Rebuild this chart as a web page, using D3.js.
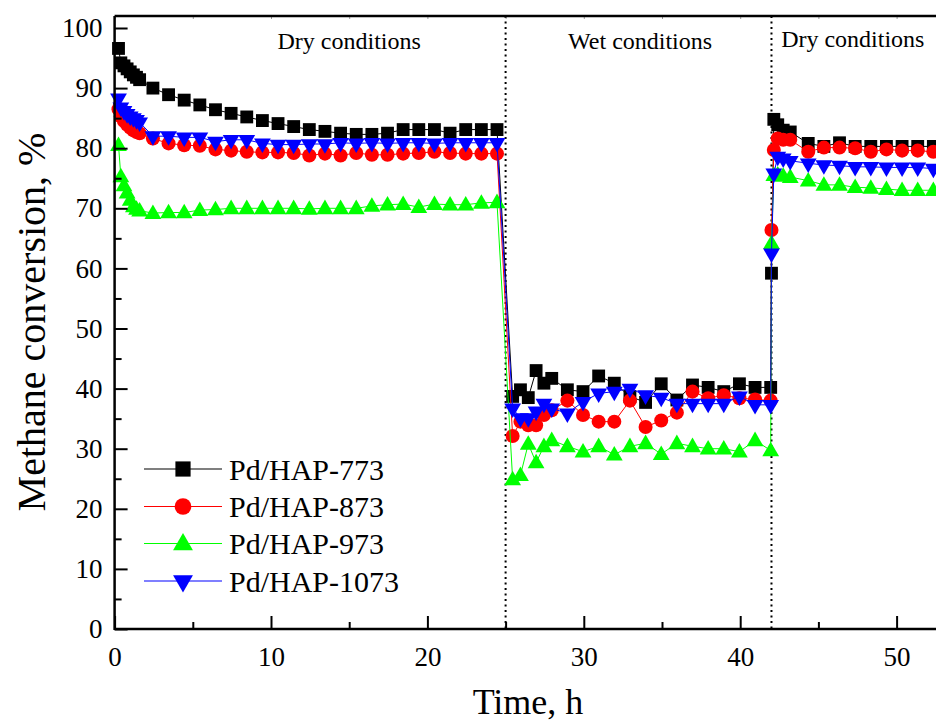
<!DOCTYPE html>
<html>
<head>
<meta charset="utf-8">
<script src="https://cdn.jsdelivr.net/npm/d3@7"></script>
<style>
  body { margin: 0; background: #fff; }
  svg { display: block; }
  text { font-family: "Liberation Serif", "Times New Roman", serif; fill: #000; }
</style>
</head>
<body>
<svg id="chart" width="936" height="724"></svg>
<script>
// Time on stream, h (shared by all four catalysts)
const hours = [
  0.25, 0.4, 0.6, 0.8, 1.0, 1.2, 1.4, 1.6,
  2.45, 3.45, 4.45, 5.45, 6.45, 7.45, 8.45, 9.45, 10.45, 11.45,
  12.45, 13.45, 14.45, 15.45, 16.45, 17.45, 18.45, 19.45, 20.45, 21.45, 22.45, 23.45, 24.45,
  25.45, 25.95, 26.45, 26.95, 27.45, 27.95, 28.95, 29.95, 30.95, 31.95,
  32.95, 33.95, 34.95, 35.95, 36.95, 37.95, 38.95, 39.95, 40.95, 41.95,
  42.0, 42.15, 42.4, 42.75, 43.2, 44.35, 45.35, 46.35, 47.35, 48.35, 49.35, 50.35, 51.35, 52.35
];

// Methane conversion, %
const pd773 = [
  96.6, 94.2, 93.7, 93.2, 92.7, 92.2, 91.8, 91.4,
  90.0, 88.9, 88.0, 87.2, 86.4, 85.8, 85.2, 84.6, 84.1, 83.6,
  83.1, 82.8, 82.5, 82.3, 82.3, 82.5, 83.1, 83.1, 83.1, 82.5, 83.1, 83.1, 83.1,
  38.7, 39.8, 38.5, 43.0, 40.9, 41.7, 39.8, 39.5, 42.1, 40.9,
  38.7, 37.7, 40.8, 38.1, 40.6, 40.2, 39.5, 40.8, 40.2, 40.2,
  59.2, 84.8, 83.9, 83.0, 82.7, 80.8, 80.3, 80.9, 80.3, 80.3, 80.3, 80.3, 80.3, 80.3
];
const pd873 = [
  86.5, 85.3, 84.5, 83.9, 83.4, 83.0, 82.7, 82.5,
  81.6, 80.8, 80.5, 80.4, 79.8, 79.6, 79.4, 79.3, 79.3, 79.2,
  78.8, 79.1, 78.8, 79.2, 78.9, 78.9, 79.1, 79.2, 79.4, 79.2, 79.1, 79.1, 79.1,
  32.1, 34.5, 33.9, 33.9, 35.6, 36.4, 38.0, 35.6, 34.5, 34.5,
  38.0, 33.6, 34.7, 36.0, 39.5, 38.4, 38.9, 38.4, 38.2, 38.0,
  66.4, 79.7, 81.6, 81.4, 81.4, 79.4, 80.1, 80.1, 80.0, 79.4, 79.8, 79.6, 79.6, 79.4
];
const pd973 = [
  80.5, 75.3, 73.8, 72.6, 71.4, 70.3, 69.9, 69.6,
  69.2, 69.3, 69.3, 69.7, 69.8, 70.0, 70.0, 70.0, 70.0, 70.0,
  69.9, 70.0, 70.0, 70.0, 70.4, 70.6, 70.7, 70.2, 70.7, 70.6, 70.6, 70.9, 71.0,
  24.9, 25.6, 30.8, 27.7, 30.4, 31.4, 30.4, 29.5, 30.4, 29.0,
  30.4, 30.9, 29.1, 30.9, 30.4, 30.0, 30.0, 29.5, 31.4, 29.7,
  64.2, 75.5, 75.6, 75.4, 75.2, 74.6, 73.9, 73.9, 73.5, 73.4, 73.2, 73.0, 73.0, 73.0
];
const pd1073 = [
  88.3, 86.8, 86.2, 85.7, 85.3, 85.0, 84.7, 84.3,
  82.0, 82.0, 81.8, 81.8, 81.1, 81.4, 81.4, 80.8, 80.6, 80.6,
  80.7, 80.7, 80.9, 80.8, 80.9, 80.8, 80.9, 80.9, 80.8, 80.9, 80.9, 80.9, 80.9,
  36.7, 35.1, 35.1, 36.2, 37.5, 36.7, 35.9, 37.8, 39.2, 39.5,
  40.0, 38.9, 38.5, 37.5, 37.5, 37.5, 37.5, 38.7, 37.3, 37.3,
  62.5, 75.8, 78.6, 78.3, 77.9, 77.5, 77.2, 77.1, 76.9, 76.9, 76.8, 76.8, 76.8, 76.6
];

const seriesNames = ["Pd/HAP-773", "Pd/HAP-873", "Pd/HAP-973", "Pd/HAP-1073"];
const seriesColors = ["#000000", "#ff0000", "#00ff00", "#0000ff"];
const seriesMarkers = ["square", "circle", "triangle-up", "triangle-down"];

// Switch points between feed conditions, h
const switchTimes = [25, 42];
const phaseLabels = ["Dry conditions", "Wet conditions", "Dry conditions"];
const phaseLabelTimes = [15, 33.6, 47.2];

const xMajor = [0, 10, 20, 30, 40, 50];
const xMinor = [5, 15, 25, 35, 45, 55];
const yMajor = [0, 10, 20, 30, 40, 50, 60, 70, 80, 90, 100];
const yMinor = [5, 15, 25, 35, 45, 55, 65, 75, 85, 95];

const svg = d3.select("#chart");
const plotLeft = 114.6, plotBottom = 629, plotTop = 16;

const x = d3.scaleLinear().domain([0, 55]).range([plotLeft, plotLeft + 55 * 15.64]);
const y = d3.scaleLinear().domain([0, 100]).range([plotBottom, plotBottom - 100 * 6.01]);

const series = [pd773, pd873, pd973, pd1073].map((vals, i) => ({
  name: seriesNames[i], color: seriesColors[i], marker: seriesMarkers[i],
  points: hours.map((h, j) => ({ h, v: vals[j] }))
}));

function symbolPath(marker, scale) {
  if (marker === "square") return d3.symbol(d3.symbolSquare, 165 * scale)();
  if (marker === "circle") return d3.symbol(d3.symbolCircle, 155 * scale)();
  return d3.symbol(d3.symbolTriangle, 122 * scale)();
}
function symbolTransform(marker, px, py) {
  if (marker === "triangle-down") return `translate(${px},${py}) rotate(180)`;
  if (marker === "triangle-up") return `translate(${px},${py + 1})`;
  return `translate(${px},${py})`;
}

// Condition boundaries
svg.append("g").selectAll("line").data(switchTimes).join("line")
  .attr("x1", d => x(d)).attr("x2", d => x(d))
  .attr("y1", plotTop).attr("y2", plotBottom)
  .attr("stroke", "#000").attr("stroke-width", 2)
  .attr("stroke-dasharray", "2,3.5");

// Lines and markers
const line = d3.line().x(d => x(d.h)).y(d => y(d.v));
const plot = svg.append("g");
series.forEach(s => {
  const g = plot.append("g");
  g.append("path").datum(s.points)
    .attr("d", line).attr("fill", "none")
    .attr("stroke", s.color).attr("stroke-width", 1);
  g.selectAll("path.m").data(s.points).join("path")
    .attr("class", "m")
    .attr("d", symbolPath(s.marker, 1))
    .attr("transform", d => symbolTransform(s.marker, x(d.h), y(d.v)))
    .attr("fill", s.color);
});

// Axes: ticks point into the plot
const axisFont = 27;
const gx = svg.append("g").attr("transform", `translate(0,${plotBottom})`);
gx.call(d3.axisBottom(x).tickValues(xMajor).tickSizeInner(-13).tickSizeOuter(0).tickPadding(18));
const gxm = svg.append("g").attr("transform", `translate(0,${plotBottom})`);
gxm.call(d3.axisBottom(x).tickValues(xMinor).tickSizeInner(-7).tickSizeOuter(0).tickFormat(""));
const gy = svg.append("g").attr("transform", `translate(${plotLeft},0)`);
gy.call(d3.axisLeft(y).tickValues(yMajor).tickSizeInner(-13).tickSizeOuter(0).tickPadding(12));
const gym = svg.append("g").attr("transform", `translate(${plotLeft},0)`);
gym.call(d3.axisLeft(y).tickValues(yMinor).tickSizeInner(-7).tickSizeOuter(0).tickFormat(""));
const gt = svg.append("g").attr("transform", `translate(0,${plotTop})`);
gt.call(d3.axisTop(x).tickValues(xMajor.concat(xMinor)).tickSizeInner(-3).tickSizeOuter(0).tickFormat(""));

[gx, gxm, gy, gym, gt].forEach(g => {
  g.attr("font-family", null);
  g.select(".domain").remove();
  g.selectAll(".tick line").attr("stroke", "#000").attr("stroke-width", 2);
  g.selectAll(".tick text").attr("font-size", axisFont).attr("fill", "#000");
});
gt.selectAll(".tick line").attr("stroke", "#999").attr("stroke-width", 1);

// Frame lines
svg.append("line").attr("x1", plotLeft).attr("x2", 936).attr("y1", plotBottom).attr("y2", plotBottom)
  .attr("stroke", "#000").attr("stroke-width", 2.5);
svg.append("line").attr("x1", plotLeft).attr("x2", plotLeft).attr("y1", plotTop).attr("y2", plotBottom + 1)
  .attr("stroke", "#000").attr("stroke-width", 2.5);
svg.append("line").attr("x1", plotLeft).attr("x2", 936).attr("y1", plotTop).attr("y2", plotTop)
  .attr("stroke", "#000").attr("stroke-width", 2.5);

// Phase labels
svg.append("g").selectAll("text").data(phaseLabels).join("text")
  .attr("x", (d, i) => x(phaseLabelTimes[i])).attr("y", (d, i) => i === 2 ? 47 : 49)
  .attr("text-anchor", "middle").attr("font-size", 24)
  .text(d => d);

// Axis titles
svg.append("text").attr("x", 528).attr("y", 714)
  .attr("text-anchor", "middle").attr("font-size", 36).text("Time, h");
svg.append("text")
  .attr("transform", "translate(45,322) rotate(-90)")
  .attr("text-anchor", "middle").attr("font-size", 40).text("Methane conversion, %");

// Legend
const legend = svg.append("g");
const legendY = [469, 506.5, 543.5, 581];
series.forEach((s, i) => {
  const row = legend.append("g").attr("transform", `translate(0,${legendY[i]})`);
  row.append("line").attr("x1", 144).attr("x2", 222).attr("y1", 0).attr("y2", 0)
    .attr("stroke", s.color).attr("stroke-width", 1.2);
  row.append("path").attr("d", symbolPath(s.marker, 1.4))
    .attr("transform", symbolTransform(s.marker, 183, 0))
    .attr("fill", s.color);
  row.append("text").attr("x", 229).attr("y", 10.5)
    .attr("font-size", 30).text(s.name);
});
</script>
</body>
</html>
